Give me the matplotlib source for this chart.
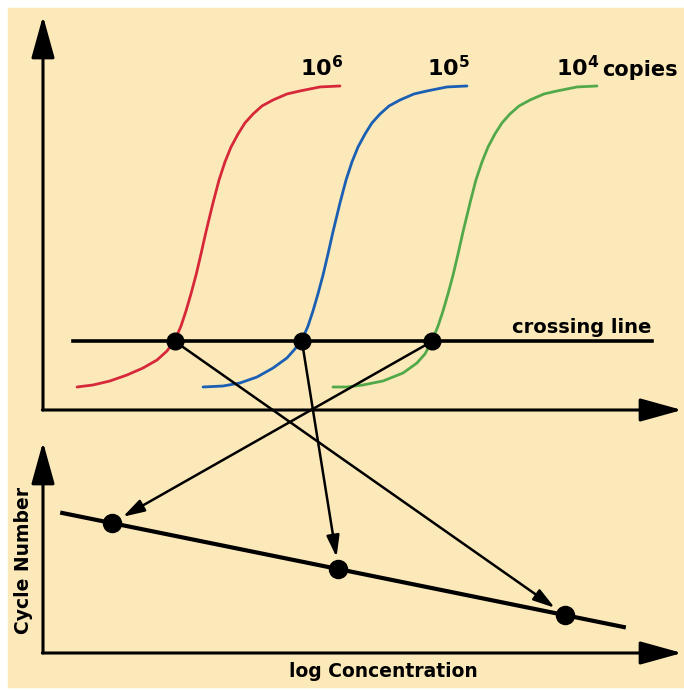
import matplotlib
matplotlib.use('Agg')
import matplotlib.pyplot as plt
import numpy as np
from matplotlib.patches import Rectangle, ConnectionPatch

# amplification curves (cycle number, fluorescence)
red_cycle = [2.13, 3.13, 4.19, 5.26, 6.26, 7.14, 7.76, 8.26, 8.64, 8.95, 9.26, 9.58, 9.89, 10.20,
             10.64, 11.02, 11.39, 11.77, 12.21, 12.64, 13.15, 13.71, 14.40, 15.27, 16.09, 17.34, 18.59]
red_fluor = [5.87, 6.38, 7.40, 8.93, 10.71, 12.76, 15.05, 17.86, 21.43, 25.26, 29.59, 34.44, 39.80, 45.41,
             52.81, 58.67, 63.27, 67.09, 70.41, 73.21, 75.51, 77.55, 79.08, 80.61, 81.38, 82.40, 82.65]
blue_cycle = [10.02, 11.27, 12.33, 13.40, 14.40, 15.27, 15.77, 16.21, 16.59, 16.90, 17.21, 17.53, 17.84, 18.15,
              18.59, 18.97, 19.34, 19.72, 20.16, 20.59, 21.10, 21.66, 22.35, 23.22, 24.04, 25.29, 26.54]
blue_fluor = [5.87, 6.12, 6.89, 8.42, 10.71, 13.27, 15.56, 17.86, 21.43, 25.26, 29.59, 34.44, 39.80, 45.41,
              52.81, 58.67, 63.27, 67.09, 70.41, 73.21, 75.51, 77.55, 79.08, 80.61, 81.38, 82.40, 82.65]
green_cycle = [18.15, 19.03, 20.03, 21.28, 22.54, 23.41, 23.91, 24.35, 24.73, 25.04, 25.35, 25.67, 25.98, 26.29,
               26.73, 27.10, 27.48, 27.86, 28.29, 28.73, 29.23, 29.80, 30.49, 31.36, 32.18, 33.43, 34.68]
green_fluor = [5.87, 5.87, 6.38, 7.40, 9.44, 11.99, 14.29, 17.60, 21.43, 25.26, 29.59, 34.44, 39.80, 45.41,
               52.81, 58.67, 63.27, 67.09, 70.41, 73.21, 75.51, 77.55, 79.08, 80.61, 81.38, 82.40, 82.65]

# crossing line (threshold) and where each curve crosses it
threshold = 17.5
threshold_x = [1.9, 38.1]
labels = ['$\\mathbf{10^6}$', '$\\mathbf{10^5}$', '$\\mathbf{10^4}$']
log_conc = [6, 5, 4]
ct = [8.26, 16.21, 24.35]
fit_x = [3.78, 6.26]

colors = ['#d62839', '#1a5fb4', '#52a94a']
bg = '#fce9b9'

fig = plt.figure(figsize=(6.84, 6.9), dpi=100)
fig.add_artist(Rectangle((8 / 684, 3 / 690), 676 / 684, 679 / 690,
                         transform=fig.transFigure, color=bg, zorder=-10))

ax1 = fig.add_axes([43 / 684, 280 / 690, 639 / 684, 394 / 690])
ax2 = fig.add_axes([43 / 684, 37 / 690, 639 / 684, 211 / 690])
ax1.set_xlim(0, 40)
ax1.set_ylim(0, 100.5)
ax2.set_xlim(3.695, 6.517)
ax2.set_ylim(1.6, 38.5)

# axes drawn as arrows
for ax in (ax1, ax2):
    ax.set_axis_off()
    arrow = dict(arrowstyle='-|>,head_length=1.3,head_width=0.36', mutation_scale=20,
                 lw=2.2, color='black', shrinkA=0, shrinkB=0)
    ax.annotate('', xy=(0, 1), xytext=(0, 0), xycoords='axes fraction', arrowprops=arrow)
    ax.annotate('', xy=(1, 0), xytext=(-0.001, 0), xycoords='axes fraction', arrowprops=arrow)

# amplification curves
curves = [(red_cycle, red_fluor), (blue_cycle, blue_fluor), (green_cycle, green_fluor)]
for (cx, cy), c, lab in zip(curves, colors, labels):
    ax1.plot(cx, cy, color=c, lw=2, solid_capstyle='round', solid_joinstyle='round', clip_on=False)
    ax1.annotate(lab, xy=(cx[-1], cy[-1]), xytext=(2, 7), textcoords='offset points',
                 ha='right', va='baseline', fontsize=16, fontweight='bold')
ax1.annotate('copies', xy=(green_cycle[-1], green_fluor[-1]), xytext=(4, 7),
             textcoords='offset points', ha='left', va='baseline', fontsize=15, fontweight='bold')

ax1.plot(threshold_x, [threshold, threshold], color='black', lw=2.6, clip_on=False)
ax1.annotate('crossing line', xy=(threshold_x[1], threshold), xytext=(0, 6),
             textcoords='offset points', ha='right', va='baseline', fontsize=14, fontweight='bold')
ax1.plot(ct, [threshold] * 3, 'o', color='black', ms=12, zorder=5, clip_on=False)

# standard curve below
k, b = np.polyfit(log_conc, ct, 1)
fx = np.array(fit_x)
ax2.plot(fx, k * fx + b, color='black', lw=3, clip_on=False)
ax2.plot(log_conc, ct, 'o', color='black', ms=13, zorder=5, clip_on=False)
ax2.text(0.532, -0.09, 'log Concentration', transform=ax2.transAxes, ha='center', va='center',
         fontsize=13.5, fontweight='bold')
ax2.text(-0.03, 0.44, 'Cycle Number', transform=ax2.transAxes, ha='center', va='center',
         rotation=90, fontsize=13.5, fontweight='bold')

# arrows from each crossing point to its point on the standard curve
for c_val, lc in zip(ct, log_conc):
    con = ConnectionPatch(xyA=(c_val, threshold), coordsA=ax1.transData,
                          xyB=(lc, c_val), coordsB=ax2.transData,
                          arrowstyle='-|>,head_length=1.0,head_width=0.3', mutation_scale=13,
                          lw=1.8, color='black', shrinkA=0, shrinkB=9)
    fig.add_artist(con)

fig.savefig('out.png', dpi=100)
